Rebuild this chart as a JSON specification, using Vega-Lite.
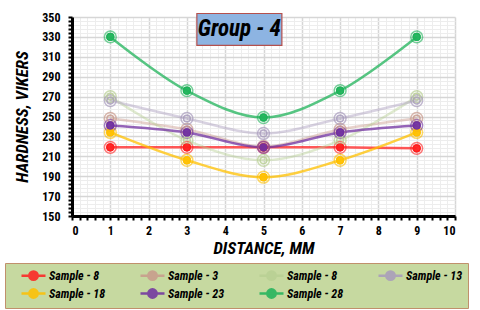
{
  "$schema": "https://vega.github.io/schema/vega-lite/v6.json",
  "width": 383,
  "height": 199,
  "autosize": {"type": "none"},
  "padding": {"left": 72, "top": 17, "right": 25, "bottom": 94},
  "background": "#ffffff",
  "config": {
    "view": {"stroke": null},
    "font": "Roboto Condensed, Roboto, sans-serif"
  },
  "layer": [
    {
      "data": {
        "values": [
          {"s": "A", "x": 1, "y": 219}, {"s": "A", "x": 3, "y": 219}, {"s": "A", "x": 5, "y": 219}, {"s": "A", "x": 7, "y": 219}, {"s": "A", "x": 9, "y": 218},
          {"s": "B", "x": 1, "y": 248}, {"s": "B", "x": 3, "y": 237}, {"s": "B", "x": 5, "y": 220}, {"s": "B", "x": 7, "y": 237}, {"s": "B", "x": 9, "y": 248},
          {"s": "C", "x": 1, "y": 270}, {"s": "C", "x": 3, "y": 226}, {"s": "C", "x": 5, "y": 206}, {"s": "C", "x": 7, "y": 226}, {"s": "C", "x": 9, "y": 270},
          {"s": "D", "x": 1, "y": 266}, {"s": "D", "x": 3, "y": 248}, {"s": "D", "x": 5, "y": 233}, {"s": "D", "x": 7, "y": 248}, {"s": "D", "x": 9, "y": 266},
          {"s": "E", "x": 1, "y": 234}, {"s": "E", "x": 3, "y": 206}, {"s": "E", "x": 5, "y": 189}, {"s": "E", "x": 7, "y": 206}, {"s": "E", "x": 9, "y": 234},
          {"s": "F", "x": 1, "y": 241}, {"s": "F", "x": 3, "y": 234}, {"s": "F", "x": 5, "y": 219}, {"s": "F", "x": 7, "y": 234}, {"s": "F", "x": 9, "y": 241},
          {"s": "G", "x": 1, "y": 330}, {"s": "G", "x": 3, "y": 276}, {"s": "G", "x": 5, "y": 249}, {"s": "G", "x": 7, "y": 276}, {"s": "G", "x": 9, "y": 330}
        ]
      },
      "encoding": {
        "x": {
          "field": "x", "type": "quantitative",
          "scale": {"domain": [0, 10], "nice": false, "zero": false},
          "axis": {
            "title": "DISTANCE, MM",
            "titleFontSize": 17, "titleFontStyle": "italic", "titleFontWeight": "bold", "titleColor": "#000000",
            "titlePadding": 4,
            "values": [0,0.2,0.4,0.6,0.8,1,1.2,1.4,1.6,1.8,2,2.2,2.4,2.6,2.8,3,3.2,3.4,3.6,3.8,4,4.2,4.4,4.6,4.8,5,5.2,5.4,5.6,5.8,6,6.2,6.4,6.6,6.8,7,7.2,7.4,7.6,7.8,8,8.2,8.4,8.6,8.8,9,9.2,9.4,9.6,9.8,10],
            "labelExpr": "abs(datum.value - round(datum.value)) < 0.001 ? format(datum.value, 'd') : ''",
            "labelOverlap": false,
            "labelFontSize": 12, "labelFontWeight": "bold", "labelColor": "#000000", "labelPadding": 5,
            "grid": true,
            "gridColor": {"condition": {"test": "abs(datum.value - round(datum.value)) < 0.001", "value": "#d6d6d6"}, "value": "#ededed"},
            "gridWidth": {"condition": {"test": "abs(datum.value - round(datum.value)) < 0.001", "value": 1.5}, "value": 1},
            "domainColor": "#000000", "domainWidth": 3,
            "tickColor": "#000000", "tickWidth": 2, "tickSize": 4
          }
        },
        "y": {
          "field": "y", "type": "quantitative",
          "scale": {"domain": [150, 350], "nice": false, "zero": false},
          "axis": {
            "title": "HARDNESS, VIKERS",
            "titleFontSize": 17, "titleFontStyle": "italic", "titleFontWeight": "bold", "titleColor": "#000000",
            "titlePadding": 10,
            "values": [150,154,158,162,166,170,174,178,182,186,190,194,198,202,206,210,214,218,222,226,230,234,238,242,246,250,254,258,262,266,270,274,278,282,286,290,294,298,302,306,310,314,318,322,326,330,334,338,342,346,350],
            "labelExpr": "datum.value % 20 == 10 ? format(datum.value, 'd') : ''",
            "labelOverlap": false,
            "labelFontSize": 12, "labelFontWeight": "bold", "labelColor": "#000000", "labelPadding": 8,
            "grid": true,
            "gridColor": {"condition": {"test": "datum.value % 20 == 10", "value": "#d6d6d6"}, "value": "#ededed"},
            "gridWidth": {"condition": {"test": "datum.value % 20 == 10", "value": 1.5}, "value": 1},
            "domainColor": "#000000", "domainWidth": 3,
            "tickColor": "#000000", "tickWidth": 2, "tickSize": 4
          }
        },
        "color": {
          "field": "s", "type": "nominal",
          "scale": {
            "domain": ["A", "B", "C", "D", "E", "F", "G"],
            "range": ["#ff1f1f", "#c99a8c", "#b9d094", "#a89bbd", "#ffc000", "#7030a0", "#1fb35a"]
          },
          "legend": {
            "title": null,
            "orient": "none", "legendX": -67, "legendY": 246,
            "direction": "horizontal",
            "columns": 4, "gridAlign": "all", "columnPadding": 23, "rowPadding": -1,
            "padding": 5,
            "symbolOffset": 16,
            "fillColor": "#c6d9a0", "strokeColor": "#c0906c",
            "symbolType": "M-2,0H2M-0.7,0A0.7,0.7 0 1,0 0.7,0A0.7,0.7 0 1,0 -0.7,0",
            "symbolSize": 144, "symbolStrokeWidth": 2.5,
            "labelOffset": 8,
            "labelExpr": "['Sample - 8','Sample - 3','Sample - 8','Sample - 13','Sample - 18','Sample - 23','Sample - 28'][indexof(['A','B','C','D','E','F','G'], datum.value)]",
            "labelFontSize": 12, "labelFontStyle": "italic", "labelFontWeight": "bold", "labelColor": "#000000",
            "labelLimit": 0,
            "symbolOpacity": 0.85
          }
        }
      },
      "layer": [
        {
          "mark": {"type": "line", "interpolate": "catmull-rom", "strokeWidth": 2.5},
          "encoding": {
            "strokeOpacity": {"condition": {"test": "indexof(['B','C','D'], datum.s) >= 0", "value": 0.45}, "value": 0.75}
          }
        },
        {
          "mark": {"type": "point", "shape": "circle", "filled": false, "size": 140, "strokeWidth": 1.5},
          "encoding": {
            "opacity": {"condition": {"test": "indexof(['B','C','D'], datum.s) >= 0", "value": 0.7}, "value": 0.6}
          }
        },
        {
          "mark": {"type": "point", "shape": "circle", "filled": false, "size": 45, "strokeWidth": 1.5},
          "encoding": {
            "opacity": {"condition": {"test": "indexof(['B','C','D'], datum.s) >= 0", "value": 0.8}, "value": 1}
          }
        },
        {
          "mark": {"type": "point", "shape": "circle", "filled": true, "size": 70},
          "encoding": {
            "opacity": {"condition": {"test": "indexof(['B','C','D'], datum.s) >= 0", "value": 0.15}, "value": 0.95}
          }
        }
      ]
    },
    {
      "data": {"values": [{"title": "Group - 4"}]},
      "mark": {"type": "rect", "fill": "#8db4e2", "stroke": "#b4504d", "strokeWidth": 1.2, "clip": false},
      "encoding": {
        "x": {
          "datum": 3.26, "type": "quantitative",
          "axis": {
            "title": "DISTANCE, MM",
            "titleFontSize": 17, "titleFontStyle": "italic", "titleFontWeight": "bold", "titleColor": "#000000",
            "titlePadding": 4,
            "values": [0,0.2,0.4,0.6,0.8,1,1.2,1.4,1.6,1.8,2,2.2,2.4,2.6,2.8,3,3.2,3.4,3.6,3.8,4,4.2,4.4,4.6,4.8,5,5.2,5.4,5.6,5.8,6,6.2,6.4,6.6,6.8,7,7.2,7.4,7.6,7.8,8,8.2,8.4,8.6,8.8,9,9.2,9.4,9.6,9.8,10],
            "labelExpr": "abs(datum.value - round(datum.value)) < 0.001 ? format(datum.value, 'd') : ''",
            "labelOverlap": false,
            "labelFontSize": 12, "labelFontWeight": "bold", "labelColor": "#000000", "labelPadding": 5,
            "grid": true,
            "gridColor": {"condition": {"test": "abs(datum.value - round(datum.value)) < 0.001", "value": "#d6d6d6"}, "value": "#ededed"},
            "gridWidth": {"condition": {"test": "abs(datum.value - round(datum.value)) < 0.001", "value": 1.5}, "value": 1},
            "domainColor": "#000000", "domainWidth": 3,
            "tickColor": "#000000", "tickWidth": 2, "tickSize": 4
          }
        },
        "x2": {"datum": 5.48},
        "y": {
          "datum": 353.5, "type": "quantitative",
          "axis": {
            "title": "HARDNESS, VIKERS",
            "titleFontSize": 17, "titleFontStyle": "italic", "titleFontWeight": "bold", "titleColor": "#000000",
            "titlePadding": 10,
            "values": [150,154,158,162,166,170,174,178,182,186,190,194,198,202,206,210,214,218,222,226,230,234,238,242,246,250,254,258,262,266,270,274,278,282,286,290,294,298,302,306,310,314,318,322,326,330,334,338,342,346,350],
            "labelExpr": "datum.value % 20 == 10 ? format(datum.value, 'd') : ''",
            "labelOverlap": false,
            "labelFontSize": 12, "labelFontWeight": "bold", "labelColor": "#000000", "labelPadding": 8,
            "grid": true,
            "gridColor": {"condition": {"test": "datum.value % 20 == 10", "value": "#d6d6d6"}, "value": "#ededed"},
            "gridWidth": {"condition": {"test": "datum.value % 20 == 10", "value": 1.5}, "value": 1},
            "domainColor": "#000000", "domainWidth": 3,
            "tickColor": "#000000", "tickWidth": 2, "tickSize": 4
          }
        },
        "y2": {"datum": 321.5}
      }
    },
    {
      "data": {"values": [{"title": "Group - 4"}]},
      "mark": {"type": "text", "fontSize": 23, "fontStyle": "italic", "fontWeight": "bold", "fill": "#000000", "align": "center", "baseline": "middle"},
      "encoding": {
        "x": {
          "datum": 4.37, "type": "quantitative",
          "axis": {
            "title": "DISTANCE, MM",
            "titleFontSize": 17, "titleFontStyle": "italic", "titleFontWeight": "bold", "titleColor": "#000000",
            "titlePadding": 4,
            "values": [0,0.2,0.4,0.6,0.8,1,1.2,1.4,1.6,1.8,2,2.2,2.4,2.6,2.8,3,3.2,3.4,3.6,3.8,4,4.2,4.4,4.6,4.8,5,5.2,5.4,5.6,5.8,6,6.2,6.4,6.6,6.8,7,7.2,7.4,7.6,7.8,8,8.2,8.4,8.6,8.8,9,9.2,9.4,9.6,9.8,10],
            "labelExpr": "abs(datum.value - round(datum.value)) < 0.001 ? format(datum.value, 'd') : ''",
            "labelOverlap": false,
            "labelFontSize": 12, "labelFontWeight": "bold", "labelColor": "#000000", "labelPadding": 5,
            "grid": true,
            "gridColor": {"condition": {"test": "abs(datum.value - round(datum.value)) < 0.001", "value": "#d6d6d6"}, "value": "#ededed"},
            "gridWidth": {"condition": {"test": "abs(datum.value - round(datum.value)) < 0.001", "value": 1.5}, "value": 1},
            "domainColor": "#000000", "domainWidth": 3,
            "tickColor": "#000000", "tickWidth": 2, "tickSize": 4
          }
        },
        "y": {
          "datum": 337.5, "type": "quantitative",
          "axis": {
            "title": "HARDNESS, VIKERS",
            "titleFontSize": 17, "titleFontStyle": "italic", "titleFontWeight": "bold", "titleColor": "#000000",
            "titlePadding": 10,
            "values": [150,154,158,162,166,170,174,178,182,186,190,194,198,202,206,210,214,218,222,226,230,234,238,242,246,250,254,258,262,266,270,274,278,282,286,290,294,298,302,306,310,314,318,322,326,330,334,338,342,346,350],
            "labelExpr": "datum.value % 20 == 10 ? format(datum.value, 'd') : ''",
            "labelOverlap": false,
            "labelFontSize": 12, "labelFontWeight": "bold", "labelColor": "#000000", "labelPadding": 8,
            "grid": true,
            "gridColor": {"condition": {"test": "datum.value % 20 == 10", "value": "#d6d6d6"}, "value": "#ededed"},
            "gridWidth": {"condition": {"test": "datum.value % 20 == 10", "value": 1.5}, "value": 1},
            "domainColor": "#000000", "domainWidth": 3,
            "tickColor": "#000000", "tickWidth": 2, "tickSize": 4
          }
        },
        "text": {"field": "title"}
      }
    }
  ]
}
